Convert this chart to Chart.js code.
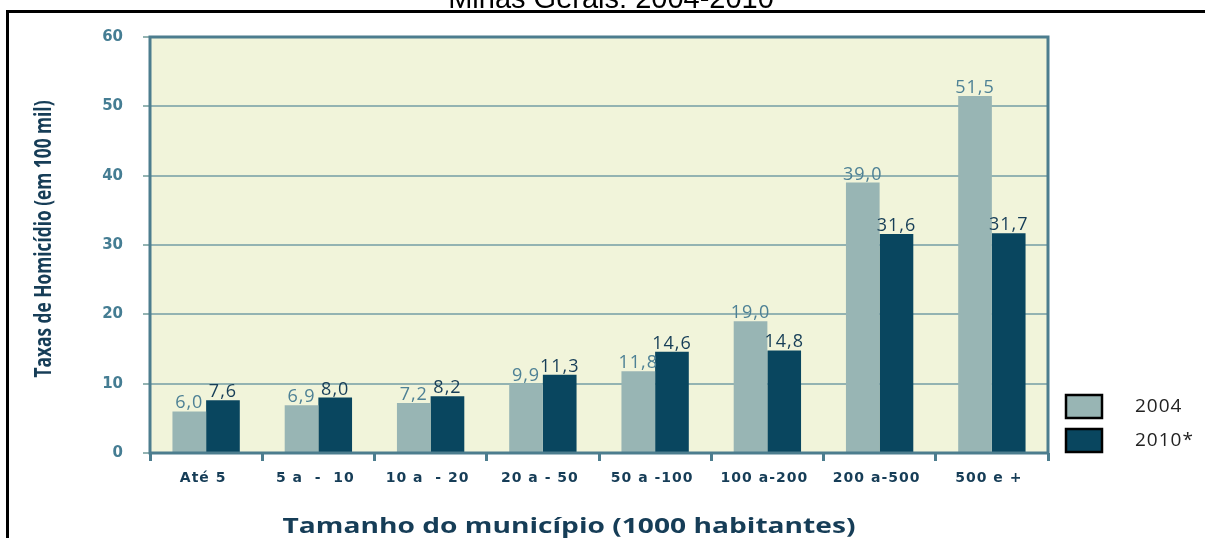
<!DOCTYPE html>
<html>
<head>
<meta charset="utf-8">
<script src="https://cdn.jsdelivr.net/npm/chart.js@4.4.0/dist/chart.umd.min.js"></script>
<style>
  html, body { margin: 0; padding: 0; background: #fff; }
  #wrap { position: relative; width: 1205px; height: 538px; }
</style>
</head>
<body>
<div id="wrap"><canvas id="myChart" width="1205" height="538"></canvas></div>
<script>
// categorias e series
const categorias = ['Até 5', '5 a  -  10', '10 a  - 20', '20 a - 50', '50 a -100', '100 a-200', '200 a-500', '500 e +'];
const taxas2004 = [6.0, 6.9, 7.2, 9.9, 11.8, 19.0, 39.0, 51.5];
const taxas2010 = [7.6, 8.0, 8.2, 11.3, 14.6, 14.8, 31.6, 31.7];
const serieLabels = ['2004', '2010*'];
const yTicks = [0, 10, 20, 30, 40, 50, 60];

const corClara = '#98b5b4';
const corEscura = '#09465f';
const corBorda = '#4c7d8e';
const corGrade = '#93b3b2';

// fundo, moldura, titulos, rotulos e legenda
const extras = {
    id: 'extras',
    beforeDraw(chart) {
        const c = chart.ctx, a = chart.chartArea;
        c.save();
        c.fillStyle = '#f1f4da';
        c.fillRect(a.left, a.top, a.right - a.left, a.bottom - a.top);
        c.restore();
    },
    afterDraw(chart) {
        const c = chart.ctx, a = chart.chartArea;
        c.save();
        // borda do grafico
        c.strokeStyle = corBorda;
        c.lineWidth = 3;
        c.strokeRect(a.left, a.top, a.right - a.left, a.bottom - a.top);

        // moldura preta
        c.fillStyle = '#000';
        c.fillRect(6, 10, 1205 - 6, 3);
        c.fillRect(6, 10, 3, 538 - 10);

        // titulo cortado
        c.fillStyle = '#000';
        c.font = '29px "Liberation Sans", Arial, sans-serif';
        c.textAlign = 'center';
        c.textBaseline = 'alphabetic';
        c.fillText('Minas Gerais: 2004-2010', 611, 8);

        // rotulos do eixo x (fonte larga)
        const xs = chart.scales.x;
        c.fillStyle = '#163d57';
        c.font = 'bold 14px "DejaVu Sans", sans-serif';
        c.letterSpacing = '1px';
        c.textBaseline = 'middle';
        categorias.forEach((lab, i) => {
            c.fillText(lab, xs.getPixelForValue(i) - 3, 478);
        });

        // rotulos das barras
        c.font = '18px "Open Sans", sans-serif';
        c.textBaseline = 'alphabetic';
        chart.data.datasets.forEach((ds, i) => {
            const meta = chart.getDatasetMeta(i);
            c.fillStyle = i === 0 ? '#4e8195' : '#163d57';
            meta.data.forEach((bar, j) => {
                const txt = ds.data[j].toFixed(1).replace('.', ',');
                c.fillText(txt, bar.x, bar.y - 3);
            });
        });
        c.letterSpacing = '0px';

        // titulo eixo y
        c.fillStyle = '#163d57';
        c.font = 'bold 23px "Open Sans", sans-serif';
        c.save();
        c.translate(51, 239);
        c.rotate(-Math.PI / 2);
        const ty = 'Taxas de Homicídio (em 100 mil)';
        const wy = c.measureText(ty).width;
        c.scale(277 / wy, 1);
        c.textAlign = 'center';
        c.textBaseline = 'alphabetic';
        c.fillText(ty, 0, 0);
        c.restore();

        // titulo eixo x
        c.save();
        c.font = 'bold 22px "Open Sans", sans-serif';
        const tx = 'Tamanho do município (1000 habitantes)';
        const wx = c.measureText(tx).width;
        c.translate(569, 533);
        c.scale(573 / wx, 1);
        c.textAlign = 'center';
        c.textBaseline = 'alphabetic';
        c.fillText(tx, 0, 0);
        c.restore();

        // legenda
        const cores = [corClara, corEscura];
        const ys = [395, 429];
        c.font = '19px "Open Sans", sans-serif';
        c.letterSpacing = '1px';
        c.textAlign = 'left';
        c.textBaseline = 'middle';
        serieLabels.forEach((lab, i) => {
            c.fillStyle = cores[i];
            c.fillRect(1066, ys[i], 36, 23);
            c.strokeStyle = '#000';
            c.lineWidth = 2.5;
            c.strokeRect(1066, ys[i], 36, 23);
            c.fillStyle = '#222';
            c.fillText(lab, 1135, ys[i] + 12);
        });
        c.restore();
    }
};

const ctx = document.getElementById('myChart').getContext('2d');
const myChart = new Chart(ctx, {
    type: 'bar',
    data: {
        labels: categorias,
        datasets: [{
            label: serieLabels[0],
            data: taxas2004,
            backgroundColor: corClara,
            categoryPercentage: 0.6,
            barPercentage: 1.0
        }, {
            label: serieLabels[1],
            data: taxas2010,
            backgroundColor: corEscura,
            categoryPercentage: 0.6,
            barPercentage: 1.0
        }]
    },
    options: {
        responsive: false,
        animation: false,
        layout: {
            padding: { left: 0, top: 37, right: 157, bottom: 0 }
        },
        plugins: {
            legend: { display: false },
            tooltip: { enabled: false }
        },
        scales: {
            x: {
                afterFit: function (scale) { scale.height = 85; },
                grid: {
                    offset: true,
                    drawOnChartArea: false,
                    drawTicks: true,
                    tickLength: 8,
                    tickWidth: 3,
                    color: corBorda
                },
                border: { display: false },
                ticks: { display: false }
            },
            y: {
                min: 0,
                max: 60,
                afterFit: function (scale) { scale.width = 150; },
                afterBuildTicks: function (scale) {
                    scale.ticks = yTicks.map(v => ({ value: v }));
                },
                grid: {
                    color: corGrade,
                    lineWidth: 2,
                    tickLength: 7,
                    tickColor: corGrade
                },
                border: { display: false },
                ticks: {
                    padding: 20,
                    color: '#457d93',
                    font: { family: '"DejaVu Sans", sans-serif', weight: 'bold', size: 15 }
                }
            }
        }
    },
    plugins: [extras]
});
</script>
</body>
</html>
